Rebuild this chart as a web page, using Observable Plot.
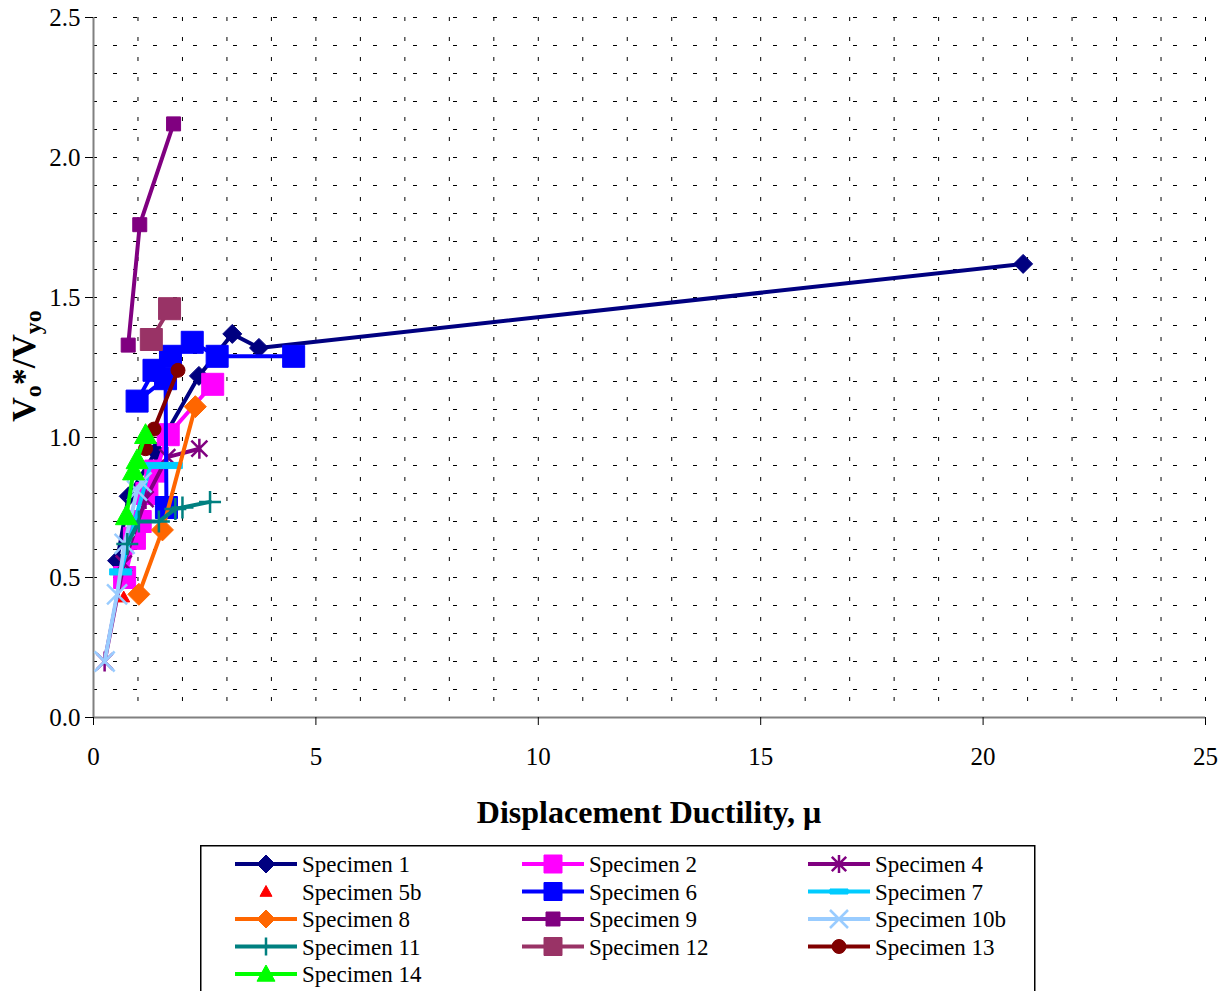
<!DOCTYPE html>
<html><head><meta charset="utf-8">
<script src="https://cdn.jsdelivr.net/npm/d3@7"></script>
<script src="https://cdn.jsdelivr.net/npm/@observablehq/plot@0.6"></script>
<style>
body{margin:0;background:#fff;font-family:"Liberation Serif","Times New Roman",serif;}
#wrap{position:relative;width:1228px;height:991px;overflow:hidden;background:#fff;}
#chart{position:absolute;left:0;top:0;}
#legend{position:absolute;left:200px;top:845px;}
svg text{font-family:"Liberation Serif","Times New Roman",serif;}
</style></head><body><div id="wrap"><div id="chart"></div><div id="legend"></div></div>
<script>
// ---- data (displacement ductility, Vo*/Vyo) ----
const spec1   = [[0.53,0.56],[0.79,0.79],[1.40,0.95],[2.37,1.22],[3.12,1.37],[3.72,1.32],[20.9,1.62]];
const spec2   = [[0.70,0.50],[0.92,0.64],[1.05,0.70],[1.20,0.80],[1.40,0.88],[1.68,1.01],[2.68,1.19]];
const spec4   = [[0.25,0.20],[0.68,0.55],[1.17,0.78],[1.66,0.93],[2.38,0.96]];
const spec5b  = [[0.68,0.43]];
const spec6   = [[1.64,0.75],[1.62,1.21],[0.98,1.13],[1.36,1.24],[1.73,1.29],[2.22,1.34],[2.78,1.29],[4.50,1.29]];
const spec7   = [[0.61,0.52],[1.28,0.90],[1.75,0.90]];
const spec8   = [[1.02,0.44],[1.55,0.67],[2.29,1.11]];
const spec9   = [[0.78,1.33],[1.04,1.76],[1.80,2.12]];
const spec10b = [[0.25,0.20],[0.53,0.44],[0.70,0.62],[0.98,0.81],[1.08,0.84]];
const spec11  = [[0.76,0.62],[1.02,0.70],[1.47,0.70],[1.84,0.745],[2.00,0.75],[2.62,0.77]];
const spec12  = [[1.30,1.35],[1.71,1.46]];
const spec13  = [[1.17,0.96],[1.36,1.03],[1.90,1.24]];
const spec14  = [[0.74,0.72],[0.90,0.88],[0.98,0.92],[1.17,1.01]];

const seriesNames  = ["Specimen 1","Specimen 2","Specimen 4","Specimen 5b","Specimen 6","Specimen 7","Specimen 8","Specimen 9","Specimen 10b","Specimen 11","Specimen 12","Specimen 13","Specimen 14"];
const seriesData   = [spec1,spec2,spec4,spec5b,spec6,spec7,spec8,spec9,spec10b,spec11,spec12,spec13,spec14];
const seriesColors = ["#000080","#FF00FF","#800080","#FF0000","#0000FF","#00CCFF","#FF6600","#800080","#99CCFF","#008080","#993366","#800000","#00FF00"];
const seriesMarker = ["diamond","square","asterisk","triangle","square","dash","diamond","square","times","plus","square","circle","triangle"];
const seriesRadius = [9.5,11,10,6,11,11,11,7,10,11,11,7,11];
const seriesLine   = [true,true,true,false,true,true,true,true,true,true,true,true,true];

const xTicks = [0,5,10,15,20,25];
const yTicks = [0,0.5,1.0,1.5,2.0,2.5];
const xGrid = d3.range(1,26);
const yGrid = d3.range(1,26).map(i=>i/10);

// ---- custom Excel-like symbols ----
const R = s => Math.sqrt(s/Math.PI);
const symbols = {
  square:{draw(c,s){const r=R(s);c.rect(-r,-r,2*r,2*r);}},
  diamond:{draw(c,s){const r=R(s);c.moveTo(0,-r);c.lineTo(r,0);c.lineTo(0,r);c.lineTo(-r,0);c.closePath();}},
  triangle:{draw(c,s){const r=R(s);c.moveTo(0,-r);c.lineTo(r,r*0.8);c.lineTo(-r,r*0.8);c.closePath();}},
  circle:{draw(c,s){const r=R(s);c.moveTo(r,0);c.arc(0,0,r,0,2*Math.PI);}},
  dash:{draw(c,s){const r=R(s);c.rect(-r,-r*0.28,2*r,r*0.56);}},
  plus:{draw(c,s){const r=R(s);c.moveTo(-r,0);c.lineTo(r,0);c.moveTo(0,-r);c.lineTo(0,r);}},
  times:{draw(c,s){const r=R(s);c.moveTo(-r,-r);c.lineTo(r,r);c.moveTo(-r,r);c.lineTo(r,-r);}},
  asterisk:{draw(c,s){const r=R(s);const a=r*0.8;c.moveTo(-a,-a);c.lineTo(a,a);c.moveTo(-a,a);c.lineTo(a,-a);c.moveTo(0,-r);c.lineTo(0,r);}}
};
const strokeOnly = new Set(["plus","times","asterisk"]);
const FONT = "'Liberation Serif','Times New Roman',serif";

const marks = [
  Plot.ruleY(yGrid,{y:d=>d,stroke:"#000",strokeWidth:1,strokeDasharray:"4,16"}),
  Plot.ruleX(xGrid,{x:d=>d,stroke:"#000",strokeWidth:1,strokeDasharray:"4,16"}),
  Plot.ruleX([0],{stroke:"#808080",strokeWidth:2}),
  Plot.ruleY([0],{stroke:"#808080",strokeWidth:2}),
  Plot.axisX({ticks:xTicks,tickSize:8,tickPadding:22,label:null,tickFormat:d=>String(d),fontFamily:FONT,fontSize:25}),
  Plot.axisY({ticks:yTicks,tickSize:8,tickPadding:5,label:null,tickFormat:d=>d.toFixed(1),fontFamily:FONT,fontSize:25})
];
seriesData.forEach((data,i)=>{
  const col = seriesColors[i];
  if (seriesLine[i]) marks.push(Plot.line(data,{x:d=>d[0],y:d=>d[1],stroke:col,strokeWidth:4,strokeLinejoin:"round"}));
  const so = strokeOnly.has(seriesMarker[i]);
  marks.push(Plot.dot(data,{x:d=>d[0],y:d=>d[1],symbol:()=>symbols[seriesMarker[i]],r:seriesRadius[i],
    fill:so?"none":col,stroke:col,strokeWidth:so?2.5:1}));
});

const chart = Plot.plot({
  width:1228,height:840,
  marginLeft:93,marginRight:23,marginTop:17,marginBottom:123,
  x:{domain:[0,25]},
  y:{domain:[0,2.5]},
  symbol:{type:"identity"},
  style:{fontFamily:FONT,fontSize:"25px",color:"#000",background:"#fff",overflow:"visible"},
  marks
});
document.getElementById("chart").appendChild(chart);

// axis titles
const svg = d3.select(chart);
svg.append("text").attr("x",649).attr("y",823).attr("text-anchor","middle").attr("font-family",FONT)
  .attr("font-weight","bold").attr("font-size",32).attr("fill","#000")
  .text("Displacement Ductility, \u03BC");
const yt = svg.append("text").attr("transform","translate(35,366) rotate(-90)").attr("text-anchor","middle")
  .attr("font-family",FONT).attr("font-weight","bold").attr("font-size",34).attr("fill","#000");
yt.append("tspan").text("V");
yt.append("tspan").attr("font-size",24).attr("dy",6).text("o");
yt.append("tspan").attr("dy",-6).text("*/V");
yt.append("tspan").attr("font-size",24).attr("dy",6).text("yo");

// legend
const L = d3.select("#legend").append("svg").attr("width",836).attr("height",150);
L.append("rect").attr("x",0.75).attr("y",0.75).attr("width",834).attr("height",160)
  .attr("fill","#fff").attr("stroke","#000").attr("stroke-width",1.5);
const colX = [35,322,608];
seriesNames.forEach((name,i)=>{
  const col = i%3, row = Math.floor(i/3);
  const x0 = colX[col], cy = 19 + row*27.5;
  const g = L.append("g");
  if (seriesLine[i]) g.append("line").attr("x1",x0).attr("x2",x0+62).attr("y1",cy).attr("y2",cy)
    .attr("stroke",seriesColors[i]).attr("stroke-width",4);
  const so = strokeOnly.has(seriesMarker[i]);
  const r = Math.min(seriesRadius[i],9);
  g.append("path").attr("transform",`translate(${x0+31},${cy})`)
    .attr("d",d3.symbol(symbols[seriesMarker[i]], r*r*Math.PI)())
    .attr("fill",so?"none":seriesColors[i]).attr("stroke",seriesColors[i]).attr("stroke-width",so?2.5:1);
  g.append("text").attr("x",x0+67).attr("y",cy).attr("dy","0.35em").attr("font-family",FONT)
    .attr("font-size",23).attr("fill","#000").text(name);
});
</script></body></html>
